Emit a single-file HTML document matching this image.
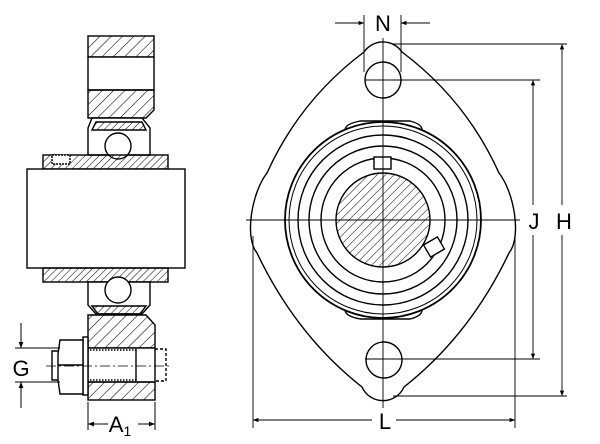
<!DOCTYPE html>
<html><head><meta charset="utf-8"><style>
html,body{margin:0;padding:0;background:#fff;width:600px;height:444px;overflow:hidden}
svg{display:block}
text{font-family:"Liberation Sans",sans-serif;fill:#000}
</style></head><body>
<svg width="600" height="444" viewBox="0 0 600 444" xmlns="http://www.w3.org/2000/svg">
<defs>
<pattern id="h" width="8" height="8" patternUnits="userSpaceOnUse" patternTransform="rotate(45)">
<line x1="0" y1="0" x2="0" y2="8" stroke="#000" stroke-width="1.1"/></pattern>
<pattern id="hs" width="6" height="6" patternUnits="userSpaceOnUse" patternTransform="rotate(45)">
<line x1="0" y1="0" x2="0" y2="6" stroke="#000" stroke-width="1"/></pattern>
<pattern id="hf" width="5" height="5" patternUnits="userSpaceOnUse" patternTransform="rotate(45)">
<line x1="0" y1="0" x2="0" y2="5" stroke="#000" stroke-width="1"/></pattern>
<marker id="a" viewBox="0 0 10 10" refX="10" refY="5" markerWidth="8" markerHeight="6" orient="auto-start-reverse">
<path d="M0,1 L10,5 L0,9 z" fill="#000"/></marker>
</defs>
<g fill="none" stroke="#000" stroke-width="1.4">
<!-- LEFT VIEW -->
<rect x="88" y="36" width="66" height="21" fill="url(#h)"/>
<rect x="88" y="57" width="66" height="33" fill="#fff"/>
<path d="M88,90 H154 V110 L146,118 H88 Z" fill="url(#h)"/>
<path d="M92,118 H142 L150,128 V155 H88 V128 Z" fill="#fff"/>
<path d="M96,122 H142 L146,130 H92 Z" fill="url(#hf)"/>
<circle cx="118" cy="146" r="13" fill="#fff"/>
<rect x="43" y="155" width="125" height="14" fill="url(#hf)"/>
<rect x="52" y="155" width="18" height="9" fill="#fff" stroke-dasharray="2,1"/>
<rect x="27" y="169" width="158" height="99" fill="#fff"/>
<rect x="43" y="268" width="125" height="14" fill="url(#hf)"/>
<path d="M88,282 H150 V305 L142,314 H96 L88,305 Z" fill="#fff"/>
<path d="M92,306 H146 L140,314 H98 Z" fill="url(#hf)"/>
<circle cx="118" cy="290" r="13" fill="#fff"/>
<path d="M88,315 H146 L155,325 V348 H88 Z" fill="url(#h)"/>
<rect x="88" y="348" width="67" height="34" fill="#fff"/>
<rect x="88" y="382" width="67" height="18" fill="url(#h)"/>
<path d="M90,350 H136 M90,380 H136" stroke-dasharray="1.5,1.5"/>
<line x1="136" y1="349" x2="136" y2="381"/>
<path d="M155,349 H166 V381 H155" stroke-dasharray="3,2"/>
<rect x="83" y="337" width="5" height="58" fill="#fff"/>
<path d="M60,340 H83 V394 H60 L58,380 V354 Z" fill="#fff"/>
<line x1="58" y1="365" x2="83" y2="365"/>
<path d="M58,351 H52 V380 H58"/>
<line x1="46" y1="366" x2="170" y2="366" stroke-width="0.8" stroke-dasharray="10,3,2,3"/>
<!-- G -->
<line x1="15" y1="348" x2="60" y2="348" stroke-width="1"/>
<line x1="15" y1="382" x2="60" y2="382" stroke-width="1"/>
<line x1="21" y1="323" x2="21" y2="348" stroke-width="1" marker-end="url(#a)"/>
<line x1="21" y1="408" x2="21" y2="382" stroke-width="1" marker-end="url(#a)"/>
<!-- A1 -->
<line x1="88" y1="402" x2="88" y2="430" stroke-width="1"/>
<line x1="155" y1="402" x2="155" y2="430" stroke-width="1"/>
<line x1="108" y1="424" x2="88" y2="424" stroke-width="1" marker-end="url(#a)"/>
<line x1="138" y1="424" x2="155" y2="424" stroke-width="1" marker-end="url(#a)"/>

<!-- FRONT VIEW -->
<path d="M364,52 A23,23 0 0 1 402,52 Q466,100 499,173 C514,192 522,237 509,253 Q470,335 404,387 A23,23 0 0 1 362,387 Q296,335 257,253 C244,237 252,192 267,173 Q300,100 364,52 Z" fill="#fff"/>
<circle cx="383" cy="80" r="18"/>
<circle cx="384" cy="360" r="18"/>
<path d="M345,130 Q345,124 360,121 H410 Q422,124 422,130"/>
<path d="M345,310 Q345,316 360,319 H410 Q422,316 422,310"/>
<circle cx="383" cy="220" r="98" stroke-width="1.8"/>
<circle cx="383" cy="220" r="94" stroke-width="1"/>
<circle cx="383" cy="220" r="85"/>
<circle cx="383" cy="220" r="74"/>
<circle cx="383" cy="220" r="62"/>
<circle cx="383" cy="220" r="47" fill="url(#hs)"/>
<rect x="374" y="157" width="17" height="12" fill="#fff"/>
<rect x="426" y="240" width="16" height="14" fill="#fff" transform="rotate(-30 434 247)"/>
<g stroke-width="0.9">
<line x1="246" y1="220" x2="520" y2="220"/>
<line x1="383" y1="38" x2="383" y2="408"/>
<!-- N -->
<line x1="364" y1="15" x2="364" y2="72"/>
<line x1="401" y1="15" x2="401" y2="72"/>
<line x1="335" y1="23" x2="364" y2="23" marker-end="url(#a)"/>
<line x1="430" y1="23" x2="401" y2="23" marker-end="url(#a)"/>
<!-- H -->
<line x1="393" y1="44" x2="567" y2="44"/>
<line x1="393" y1="396" x2="567" y2="396"/>
<line x1="562" y1="205" x2="562" y2="44" marker-end="url(#a)"/>
<line x1="562" y1="235" x2="562" y2="396" marker-end="url(#a)"/>
<!-- J -->
<line x1="365" y1="80" x2="540" y2="80"/>
<line x1="365" y1="359" x2="540" y2="359"/>
<line x1="533" y1="205" x2="533" y2="80" marker-end="url(#a)"/>
<line x1="533" y1="235" x2="533" y2="359" marker-end="url(#a)"/>
<!-- L -->
<line x1="253" y1="236" x2="253" y2="428"/>
<line x1="515" y1="236" x2="515" y2="428"/>
<line x1="372" y1="420" x2="253" y2="420" marker-end="url(#a)"/>
<line x1="396" y1="420" x2="515" y2="420" marker-end="url(#a)"/>
</g>
</g>
<g font-size="22" text-anchor="middle">
<text x="383" y="31">N</text>
<text x="534" y="229">J</text>
<text x="564" y="229">H</text>
<text x="385" y="429">L</text>
<text x="21" y="376">G</text>
<text x="120" y="432">A<tspan font-size="14" dy="4">1</tspan></text>
</g>
</svg>
</body></html>
